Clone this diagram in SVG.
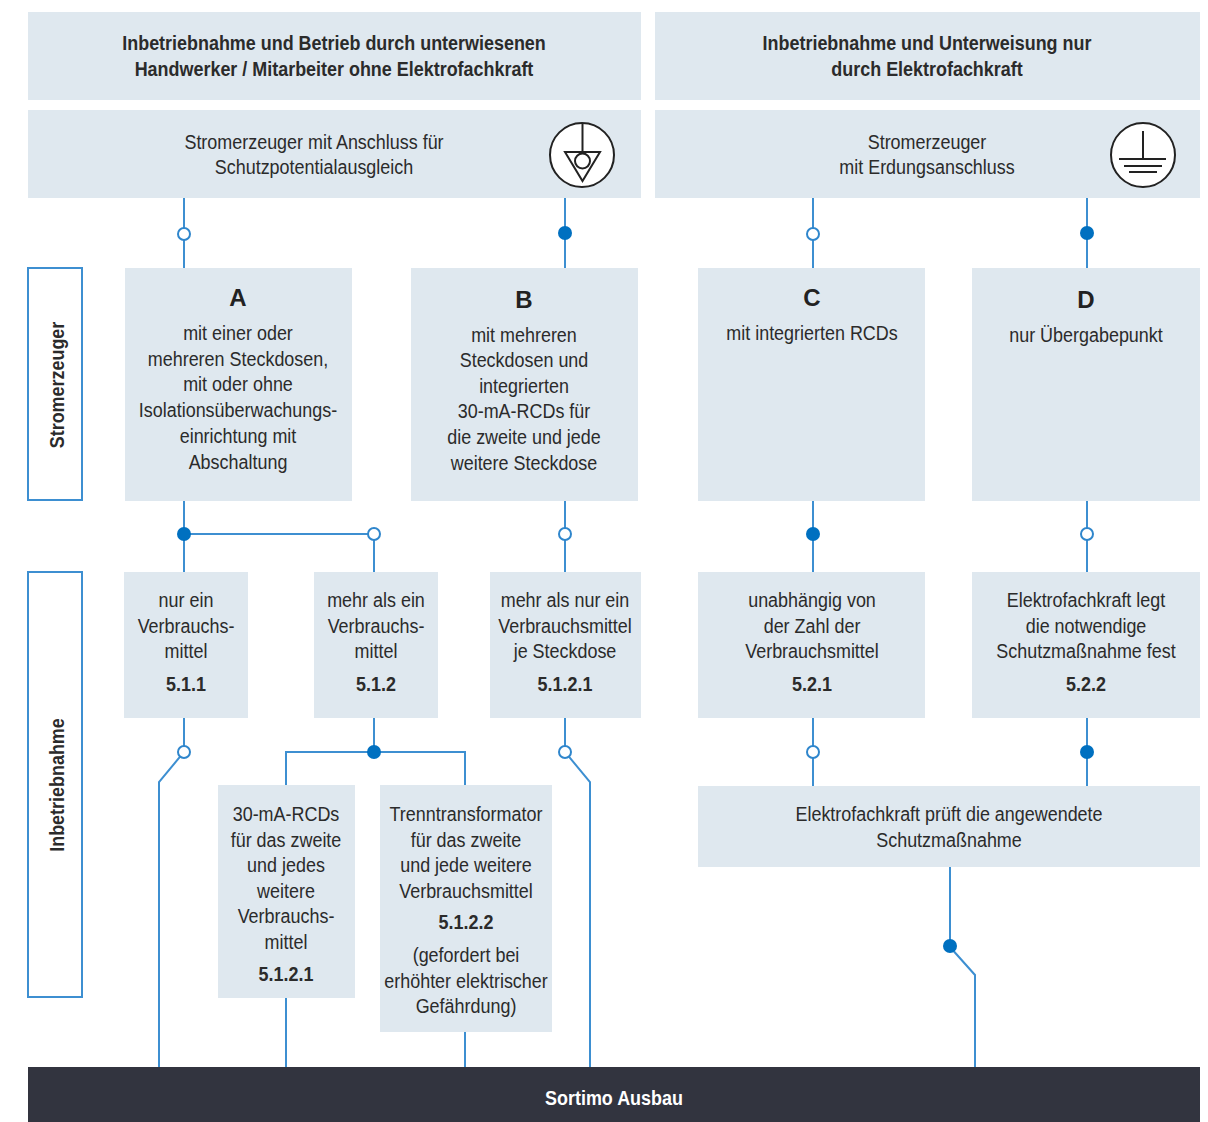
<svg xmlns="http://www.w3.org/2000/svg" width="1208" height="1122" viewBox="0 0 1208 1122">
<style>
.box{fill:#dfe8ef}
.side{fill:#fff;stroke:#3d8fd1;stroke-width:2}
.t{font-family:"Liberation Sans",Arial,sans-serif;font-size:21px;fill:#2b2b2b;text-anchor:middle}
.b{font-weight:bold}
.L{font-family:"Liberation Sans",Arial,sans-serif;font-size:24px;font-weight:bold;fill:#222;text-anchor:middle}
.ln{fill:none;stroke:#3d8fd1;stroke-width:2}
.o{fill:#fff;stroke:#2f86cc;stroke-width:2}
.f{fill:#0070c0}
.sym{fill:#fff;stroke:#222;stroke-width:2}
.symL{fill:none;stroke:#222;stroke-width:2}
</style>
<rect width="1208" height="1122" fill="#fff"/>

<g id="connectors">
<path class="ln" d="M184,198V268M565,198V268M813,198V268M1087,198V268"/>
<path class="ln" d="M184,501V572M184,534H374V572M565,501V572M813,501V572M1087,501V572"/>
<path class="ln" d="M184,718V752L159,782V1067"/>
<path class="ln" d="M374,718V752M286,785V752H465V785"/>
<path class="ln" d="M565,718V752L590,782V1067"/>
<path class="ln" d="M813,718V786M1087,718V786"/>
<path class="ln" d="M286,998V1067M465,1032V1067"/>
<path class="ln" d="M950,867V947L975,975V1067"/>
<circle class="o" cx="184" cy="234" r="6"/>
<circle class="f" cx="565" cy="233" r="7"/>
<circle class="o" cx="813" cy="234" r="6"/>
<circle class="f" cx="1087" cy="233" r="7"/>
<circle class="f" cx="184" cy="534" r="7"/>
<circle class="o" cx="374" cy="534" r="6"/>
<circle class="o" cx="565" cy="534" r="6"/>
<circle class="f" cx="813" cy="534" r="7"/>
<circle class="o" cx="1087" cy="534" r="6"/>
<circle class="o" cx="184" cy="752" r="6"/>
<circle class="f" cx="374" cy="752" r="7"/>
<circle class="o" cx="565" cy="752" r="6"/>
<circle class="o" cx="813" cy="752" r="6"/>
<circle class="f" cx="1087" cy="752" r="7"/>
<circle class="f" cx="950" cy="946" r="7"/>
</g>

<g id="header-left">
<rect class="box" x="28" y="12" width="613" height="88"/>
<g transform="translate(334 0) scale(.855 1)">
<text class="t b" x="0" y="50">Inbetriebnahme und Betrieb durch unterwiesenen</text>
<text class="t b" x="0" y="76">Handwerker / Mitarbeiter ohne Elektrofachkraft</text>
</g>
</g>
<g id="header-right">
<rect class="box" x="655" y="12" width="545" height="88"/>
<g transform="translate(927 0) scale(.855 1)">
<text class="t b" x="0" y="50">Inbetriebnahme und Unterweisung nur</text>
<text class="t b" x="0" y="76">durch Elektrofachkraft</text>
</g>
</g>

<g id="gen-left">
<rect class="box" x="28" y="110" width="613" height="88"/>
<g transform="translate(314 0) scale(.855 1)">
<text class="t" x="0" y="149">Stromerzeuger mit Anschluss für</text>
<text class="t" x="0" y="174">Schutzpotentialausgleich</text>
</g>
<circle class="sym" cx="582" cy="155" r="32"/>
<path class="symL" d="M582.5,123V152M565,152H600L582.5,181Z"/>
<circle class="symL" cx="582.5" cy="161" r="7.5"/>
</g>
<g id="gen-right">
<rect class="box" x="655" y="110" width="545" height="88"/>
<g transform="translate(927 0) scale(.855 1)">
<text class="t" x="0" y="149">Stromerzeuger</text>
<text class="t" x="0" y="174">mit Erdungsanschluss</text>
</g>
<circle class="sym" cx="1143" cy="155" r="32"/>
<path class="symL" d="M1143,131V159M1119,159H1166M1124,166H1162M1129,172H1157"/>
</g>

<g id="side-stromerzeuger">
<rect class="side" x="28" y="268" width="54" height="232"/>
<text class="t b" transform="translate(64,385) rotate(-90) scale(.855 1)">Stromerzeuger</text>
</g>
<g id="side-inbetriebnahme">
<rect class="side" x="28" y="572" width="54" height="425"/>
<text class="t b" transform="translate(64,785) rotate(-90) scale(.855 1)">Inbetriebnahme</text>
</g>

<g id="opt-A">
<rect class="box" x="125" y="268" width="227" height="233"/>
<text class="L" x="238" y="306">A</text>
<g transform="translate(238 0) scale(.855 1)">
<text class="t" x="0" y="340">mit einer oder</text>
<text class="t" x="0" y="366">mehreren Steckdosen,</text>
<text class="t" x="0" y="391">mit oder ohne</text>
<text class="t" x="0" y="417">Isolationsüberwachungs-</text>
<text class="t" x="0" y="443">einrichtung mit</text>
<text class="t" x="0" y="469">Abschaltung</text>
</g>
</g>
<g id="opt-B">
<rect class="box" x="411" y="268" width="227" height="233"/>
<text class="L" x="524" y="308">B</text>
<g transform="translate(524 0) scale(.855 1)">
<text class="t" x="0" y="342">mit mehreren</text>
<text class="t" x="0" y="367">Steckdosen und</text>
<text class="t" x="0" y="393">integrierten</text>
<text class="t" x="0" y="418">30-mA-RCDs für</text>
<text class="t" x="0" y="444">die zweite und jede</text>
<text class="t" x="0" y="470">weitere Steckdose</text>
</g>
</g>
<g id="opt-C">
<rect class="box" x="698" y="268" width="227" height="233"/>
<text class="L" x="812" y="306">C</text>
<g transform="translate(812 0) scale(.855 1)">
<text class="t" x="0" y="340">mit integrierten RCDs</text>
</g>
</g>
<g id="opt-D">
<rect class="box" x="972" y="268" width="228" height="233"/>
<text class="L" x="1086" y="308">D</text>
<g transform="translate(1086 0) scale(.855 1)">
<text class="t" x="0" y="342">nur Übergabepunkt</text>
</g>
</g>

<g id="n-511">
<rect class="box" x="124" y="572" width="124" height="146"/>
<g transform="translate(186 0) scale(.855 1)">
<text class="t" x="0" y="607">nur ein</text>
<text class="t" x="0" y="633">Verbrauchs-</text>
<text class="t" x="0" y="658">mittel</text>
<text class="t b" x="0" y="691">5.1.1</text>
</g>
</g>
<g id="n-512">
<rect class="box" x="314" y="572" width="124" height="146"/>
<g transform="translate(376 0) scale(.855 1)">
<text class="t" x="0" y="607">mehr als ein</text>
<text class="t" x="0" y="633">Verbrauchs-</text>
<text class="t" x="0" y="658">mittel</text>
<text class="t b" x="0" y="691">5.1.2</text>
</g>
</g>
<g id="n-5121b">
<rect class="box" x="490" y="572" width="151" height="146"/>
<g transform="translate(565 0) scale(.855 1)">
<text class="t" x="0" y="607">mehr als nur ein</text>
<text class="t" x="0" y="633">Verbrauchsmittel</text>
<text class="t" x="0" y="658">je Steckdose</text>
<text class="t b" x="0" y="691">5.1.2.1</text>
</g>
</g>
<g id="n-521">
<rect class="box" x="698" y="572" width="227" height="146"/>
<g transform="translate(812 0) scale(.855 1)">
<text class="t" x="0" y="607">unabhängig von</text>
<text class="t" x="0" y="633">der Zahl der</text>
<text class="t" x="0" y="658">Verbrauchsmittel</text>
<text class="t b" x="0" y="691">5.2.1</text>
</g>
</g>
<g id="n-522">
<rect class="box" x="972" y="572" width="228" height="146"/>
<g transform="translate(1086 0) scale(.855 1)">
<text class="t" x="0" y="607">Elektrofachkraft legt</text>
<text class="t" x="0" y="633">die notwendige</text>
<text class="t" x="0" y="658">Schutzmaßnahme fest</text>
<text class="t b" x="0" y="691">5.2.2</text>
</g>
</g>

<g id="n-5121">
<rect class="box" x="218" y="785" width="137" height="213"/>
<g transform="translate(286 0) scale(.855 1)">
<text class="t" x="0" y="821">30-mA-RCDs</text>
<text class="t" x="0" y="847">für das zweite</text>
<text class="t" x="0" y="872">und jedes</text>
<text class="t" x="0" y="898">weitere</text>
<text class="t" x="0" y="923">Verbrauchs-</text>
<text class="t" x="0" y="949">mittel</text>
<text class="t b" x="0" y="981">5.1.2.1</text>
</g>
</g>
<g id="n-5122">
<rect class="box" x="380" y="785" width="172" height="247"/>
<g transform="translate(466 0) scale(.855 1)">
<text class="t" x="0" y="821">Trenntransformator</text>
<text class="t" x="0" y="847">für das zweite</text>
<text class="t" x="0" y="872">und jede weitere</text>
<text class="t" x="0" y="898">Verbrauchsmittel</text>
<text class="t b" x="0" y="929">5.1.2.2</text>
<text class="t" x="0" y="962">(gefordert bei</text>
<text class="t" x="0" y="988">erhöhter elektrischer</text>
<text class="t" x="0" y="1013">Gefährdung)</text>
</g>
</g>
<g id="n-pruef">
<rect class="box" x="698" y="786" width="502" height="81"/>
<g transform="translate(949 0) scale(.855 1)">
<text class="t" x="0" y="821">Elektrofachkraft prüft die angewendete</text>
<text class="t" x="0" y="847">Schutzmaßnahme</text>
</g>
</g>

<g id="bar">
<rect x="28" y="1067" width="1172" height="55" fill="#32343f"/>
<g transform="translate(614 0) scale(.855 1)">
<text class="t b" x="0" y="1105" style="fill:#fff">Sortimo Ausbau</text>
</g>
</g>
</svg>
